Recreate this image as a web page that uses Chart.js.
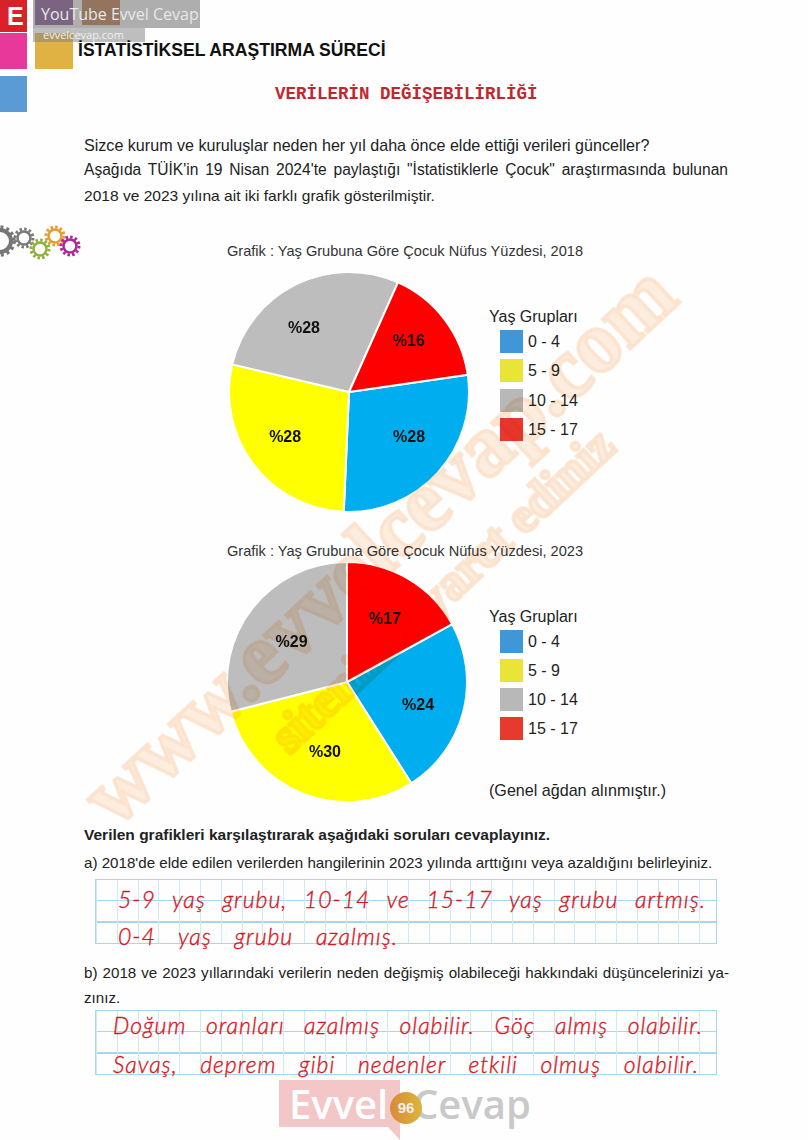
<!DOCTYPE html>
<html lang="tr">
<head>
<meta charset="utf-8">
<title>İstatistiksel Araştırma Süreci</title>
<script src="https://cdn.jsdelivr.net/npm/chart.js@4/dist/chart.umd.min.js"></script>
<style>
    html, body { margin: 0; padding: 0; background: #fefefe; }
    #page { position: relative; width: 808px; height: 1140px; overflow: hidden; font-family: "Liberation Sans", Arial, sans-serif; color: #222; }
    #page > * { position: absolute; }
    .line { white-space: nowrap; font-size: 16px; line-height: 20px; }
    .just { text-align: justify; text-align-last: justify; }
    .sq { display: block; }
    .grid {
        left: 95px; width: 622px; border: 1.5px solid #a5d8ee; box-sizing: border-box;
        background-image:
            repeating-linear-gradient(to right, #cfe9f5 0 1px, transparent 1px 20.8px),
            repeating-linear-gradient(to bottom, transparent 0 20px, #a5d8ee 20px 21.3px);
    }
    .hand { color: #d9141c; -webkit-text-stroke: 0.35px #d9141c; font-family: Lato, sans-serif; font-style: italic; font-weight: 300; font-size: 23px; line-height: 28px; letter-spacing: 1px; white-space: nowrap; text-align: justify; text-align-last: justify; }
    .chart-title { left: 105px; width: 600px; text-align: center; font-size: 14.6px; line-height: 20px; color: #333; white-space: nowrap; }
    .legend { font-size: 16px; }
    .legend .head { position: absolute; left: 0; top: 0; line-height: 20px; white-space: nowrap; }
    .legend .item { position: absolute; left: 11px; width: 100px; height: 23px; line-height: 23px; white-space: nowrap; }
    .legend .box { position: absolute; left: 0; top: 0; width: 23px; height: 23px; }
    .legend .txt { position: absolute; left: 28px; top: 0; }
    .wm { font-family: "Liberation Serif", serif; font-weight: bold; white-space: nowrap; color: #fdeee0; -webkit-text-stroke: 3.5px #fce4cf; mix-blend-mode: multiply; transform: translate(-50%, -50%) rotate(-43deg); }
</style>
</head>
<body>
<div id="page">
    <!-- corner blocks -->
    <div class="sq" style="left:0;top:0;width:27px;height:32px;background:#d8222a"></div>
    <div class="sq" style="left:35px;top:0;width:38px;height:25px;background:#7a3c8c"></div>
    <div class="sq" style="left:82px;top:0;width:38px;height:25px;background:#b8682e"></div>
    <div class="sq" style="left:0;top:33px;width:27px;height:36px;background:#e8389a"></div>
    <div class="sq" style="left:35px;top:33px;width:38px;height:36px;background:#e0b244"></div>
    <div class="sq" style="left:0;top:76px;width:27px;height:36px;background:#5b9bd5"></div>
    <div style="left:7px;top:2px;color:#fff;font-weight:bold;font-size:25px;line-height:28px">E</div>
    <div style="left:33px;top:0;width:167px;height:28px;background:rgba(125,125,125,.62)"></div>
    <div style="left:33px;top:28px;width:112px;height:14px;background:rgba(125,125,125,.5)"></div>
    <div class="line" style="left:41px;top:3px;font:16px/22px 'Open Sans',sans-serif;color:#e8e8e8">YouTube Evvel Cevap</div>
    <div class="line" style="left:43px;top:28px;font:11px/14px 'Open Sans',sans-serif;color:#f0f0f0">evvelcevap.com</div>

    <div class="line" style="left:78px;top:40px;font-size:17.6px;font-weight:bold;color:#111">İSTATİSTİKSEL ARAŞTIRMA SÜRECİ</div>
    <div class="line" style="left:275px;top:84px;font:bold 17.5px/20px 'Liberation Mono',monospace;color:#c0282e">VERİLERİN DEĞİŞEBİLİRLİĞİ</div>

    <div class="line" style="left:84px;top:135px;font-size:16.1px">Sizce kurum ve kuruluşlar neden her yıl daha önce elde ettiği verileri günceller?</div>
    <div class="line just" style="left:84px;top:160px;width:644px;font-size:15.6px">Aşağıda TÜİK'in 19 Nisan 2024'te paylaştığı "İstatistiklerle Çocuk" araştırmasında bulunan</div>
    <div class="line" style="left:84px;top:186px;font-size:15.55px">2018 ve 2023 yılına ait iki farklı grafik gösterilmiştir.</div>

    <!-- gears -->
    <svg style="left:0;top:222px" width="84" height="40" viewBox="0 0 84 40" fill="none">
        <g stroke="#767676"><circle cx="0" cy="19" r="11" stroke-width="4"/><circle cx="0" cy="19" r="14" stroke-width="3.5" stroke-dasharray="3 3"/></g>
        <g stroke="#7a7a7a"><circle cx="24" cy="16" r="6.5" stroke-width="2.5"/><circle cx="24" cy="16" r="9" stroke-width="3" stroke-dasharray="2.5 2.2"/></g>
        <g stroke="#8fb23c"><circle cx="40" cy="27" r="6.5" stroke-width="2.5"/><circle cx="40" cy="27" r="9" stroke-width="3" stroke-dasharray="2.5 2.2"/></g>
        <g stroke="#ec9a2c"><circle cx="55" cy="14" r="6.5" stroke-width="2.5"/><circle cx="55" cy="14" r="9" stroke-width="3" stroke-dasharray="2.5 2.2"/></g>
        <g stroke="#b0259c"><circle cx="70" cy="24" r="6.5" stroke-width="2.5"/><circle cx="70" cy="24" r="9" stroke-width="3" stroke-dasharray="2.5 2.2"/></g>
    </svg>

    <canvas id="pie2018" width="242" height="242" style="left:228px;top:271px"></canvas>
    <div id="title2018" class="chart-title" style="top:241px"></div>
    <div id="legend2018" class="legend" style="left:489px;top:307px"></div>

    <canvas id="pie2023" width="242" height="242" style="left:226px;top:561px"></canvas>
    <div id="title2023" class="chart-title" style="top:541px"></div>
    <div id="legend2023" class="legend" style="left:489px;top:607px"></div>
    <div class="line" style="left:489px;top:780px;font-size:16.1px">(Genel ağdan alınmıştır.)</div>

    <div class="line" style="left:84px;top:825px;font-weight:bold;font-size:15.5px">Verilen grafikleri karşılaştırarak aşağıdaki soruları cevaplayınız.</div>
    <div class="line" style="left:84px;top:853px;font-size:15.15px">a) 2018'de elde edilen verilerden hangilerinin 2023 yılında arttığını veya azaldığını belirleyiniz.</div>

    <div class="grid" style="top:879px;height:65px"></div>
    <div class="hand" style="left:118px;top:885px;width:588px">5-9 yaş grubu, 10-14 ve 15-17 yaş grubu artmış.</div>
    <div class="hand" style="left:118px;top:922px;width:280px">0-4 yaş grubu azalmış.</div>

    <div class="line just" style="left:84px;top:963px;width:645px;font-size:15.15px;white-space:normal">b) 2018 ve 2023 yıllarındaki verilerin neden değişmiş olabileceği hakkındaki düşüncelerinizi ya-</div>
    <div class="line" style="left:84px;top:988px;font-size:15.15px">zınız.</div>

    <div class="grid" style="top:1010px;height:65px"></div>
    <div class="hand" style="left:113px;top:1011px;width:590px">Doğum oranları azalmış olabilir. Göç almış olabilir.</div>
    <div class="hand" style="left:113px;top:1050px;width:586px">Savaş, deprem gibi nedenler etkili olmuş olabilir.</div>

    <!-- bottom logo -->
    <div style="left:279px;top:1080px;width:121px;height:47px;background:#f3c6c7"></div>
    <div style="left:388px;top:1127px;width:0;height:0;border-top:13px solid #f3c6c7;border-left:12px solid transparent"></div>
    <div class="line" style="left:289px;top:1080px;font:600 40px/48px 'Open Sans',sans-serif;color:#fff">Evvel</div>
    <div class="line" style="left:413px;top:1080px;font:600 40px/48px 'Open Sans',sans-serif;color:#c9c9c9">Cevap</div>
    <div style="left:390px;top:1092px;width:32px;height:32px;border-radius:50%;background:linear-gradient(to right,#d88a38,#dcb63c);color:#eee;font:bold 15px/32px 'Liberation Sans',sans-serif;text-align:center">96</div>

    <!-- site watermark on top of everything -->
    <div class="wm" style="left:378px;top:544px;font-size:86px">www.evvelcevap.com</div>
    <div class="wm" style="left:442px;top:590px;font-size:50px">sitenizi ziyaret ediniz</div>
</div>

<script>
// Data
const ageGroups = ['0 - 4', '5 - 9', '10 - 14', '15 - 17'];
const values2018 = [28, 28, 28, 16];
const values2023 = [24, 30, 29, 17];
const title2018 = 'Grafik : Yaş Grubuna Göre Çocuk Nüfus Yüzdesi, 2018';
const title2023 = 'Grafik : Yaş Grubuna Göre Çocuk Nüfus Yüzdesi, 2023';
const legendTitle = 'Yaş Grupları';

const sliceColors = ['#00aeef', '#ffff00', '#bdbdbd', '#ff0000'];
const legendColors = ['#4096d6', '#e8e536', '#b8b8b8', '#e8392f'];

// The labels are nudged away from the slice midpoint by hand
const nudge2018 = [[15.5, 5.5], [-16, 9.5], [-18.5, -10], [12, -14.5]];
const nudge2023 = [[13, 8.5], [0, 14.5], [-8, -2.5], [7.5, -10.5]];

const percentLabels = {
    id: 'percentLabels',
    afterDatasetsDraw(chart, args, opts) {
        const ctx = chart.ctx;
        const meta = chart.getDatasetMeta(0);
        ctx.save();
        ctx.font = 'bold 16px "Liberation Sans", Arial, sans-serif';
        ctx.fillStyle = '#111';
        ctx.textAlign = 'center';
        ctx.textBaseline = 'middle';
        meta.data.forEach((arc, i) => {
            const p = arc.tooltipPosition();
            ctx.fillText('%' + chart.data.datasets[0].data[i], p.x + opts.nudge[i][0], p.y + opts.nudge[i][1]);
        });
        ctx.restore();
    }
};

function makePie(id, values, rotation, nudge) {
    return new Chart(document.getElementById(id), {
        type: 'pie',
        data: {
            labels: ageGroups,
            datasets: [{
                data: values,
                backgroundColor: sliceColors,
                borderColor: '#ffffff',
                borderWidth: 2
            }]
        },
        options: {
            responsive: false,
            animation: false,
            rotation: rotation,
            plugins: {
                legend: { display: false },
                tooltip: { enabled: false },
                percentLabels: { nudge: nudge }
            }
        },
        plugins: [percentLabels]
    });
}

function renderLegend(id, pitch) {
    const items = ageGroups.map((g, i) => `
        <div class="item" style="top:${23 + i * pitch}px">
            <span class="box" style="background:${legendColors[i]}"></span>
            <span class="txt">${g}</span>
        </div>`).join('');
    document.getElementById(id).innerHTML = `<div class="head">${legendTitle}</div>${items}`;
}

makePie('pie2018', values2018, 81.7, nudge2018);
makePie('pie2023', values2023, 61.2, nudge2023);
document.getElementById('title2018').textContent = title2018;
document.getElementById('title2023').textContent = title2023;
renderLegend('legend2018', 29.3);
renderLegend('legend2023', 29);
</script>
</body>
</html>
